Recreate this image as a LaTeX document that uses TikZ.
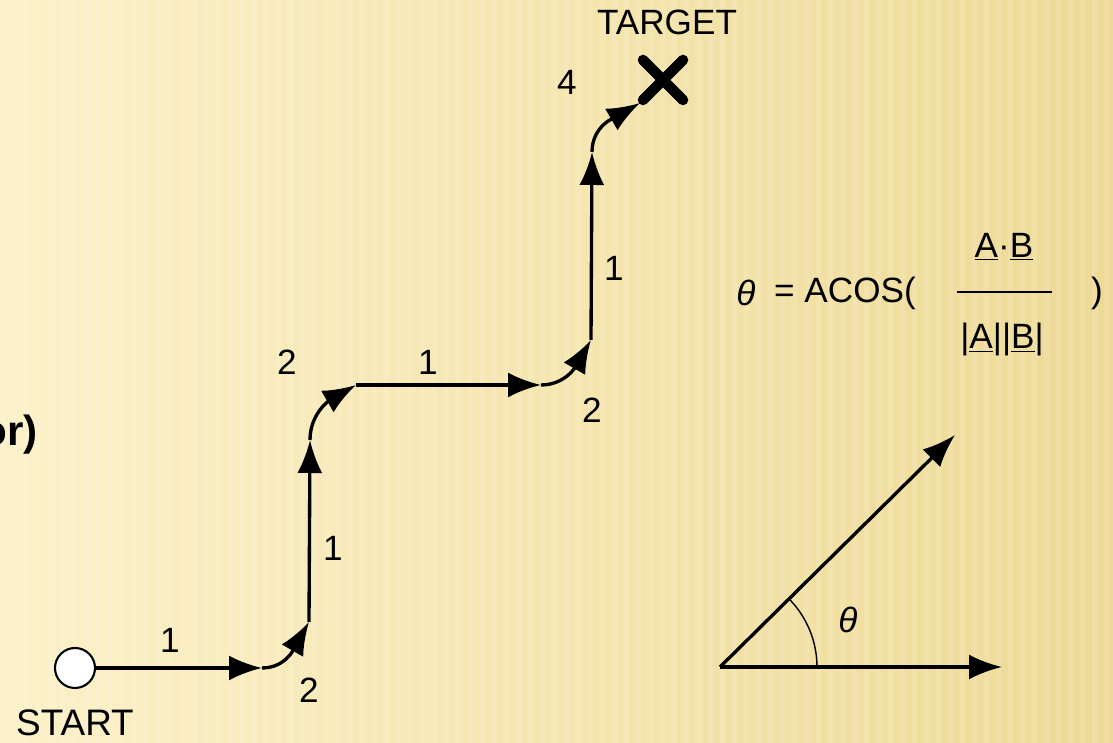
\documentclass[tikz,border=0pt]{standalone}
\usepackage{fontspec}
\setmainfont{Liberation Sans}
\usetikzlibrary{calc,arrows.meta,positioning,angles,quotes}
\definecolor{paperlight}{RGB}{252,241,200}
\definecolor{paperdark}{RGB}{238,218,150}

\begin{document}
\begin{tikzpicture}[x=0.02cm, y=0.02cm,
    step line/.style={line width=1.9pt, -{Latex[length=0.66cm, width=0.5cm]}},
    num/.style={font=\fontsize{20}{22}\selectfont},
    ]

    % background
    \useasboundingbox (0,0) rectangle (1113,743);
    \clip (0,0) rectangle (1113,743);
    \shade[left color=paperlight, right color=paperdark] (0,0) rectangle (1113,743);
    \foreach \i in {0,12,...,1110}
        \fill[white, opacity=0.12] (\i,0) rectangle (\i+5,743);

    % path points
    \coordinate (A1) at (262,75);
    \coordinate (A2) at (309,121);
    \coordinate (A3) at (310,303);
    \coordinate (A4) at (356,358);
    \coordinate (A5) at (541,358);
    \coordinate (A6) at (591,403);
    \coordinate (A7) at (592,591);
    \coordinate (A8) at (640,640);
    \coordinate (T) at (663,663);

    \node[circle, draw, fill=white, line width=1.2pt, minimum size=0.8cm, inner sep=0pt]
        (start) at (75,75) {};
    \node[font=\fontsize{21}{23}\selectfont] (startlbl) at (75,20) {START};

%	\draw[thick] (start) -- (A1);

    \draw[step line] (start) -- (A1);
    \draw[step line] (A1) to[out=0, in=240] (A2);
    \draw[step line] (A2) -- (A3);
    \draw[step line] (A3) to[out=90, in=210] (A4);
    \draw[step line] (A4) -- (A5);
    \draw[step line] (A5) to[out=0, in=240] (A6);
    \draw[step line] (A6) -- (A7);
    \draw[step line] (A7) to[out=90, in=210] (A8);
    \draw[line width=1.9pt] (A8) -- (T);

    % target cross
    \draw[line width=6pt, line cap=round] ($(T)+(-20,-20)$) -- ($(T)+(20,20)$);
    \draw[line width=6pt, line cap=round] ($(T)+(-20,20)$) -- ($(T)+(20,-20)$);
    \node[num] (targetlbl) at (667,721) {TARGET};

    % step costs
    \node[num] (c1) at (170,103) {1};
    \node[num] (c2) at (309,53) {2};
    \node[num] (c3) at (333,195) {1};
    \node[num] (c4) at (287,381) {2};
    \node[num] (c5) at (428,381) {1};
    \node[num] (c6) at (592,333) {2};
    \node[num] (c7) at (614,475) {1};
    \node[num] (c8) at (567,661) {4};

    \node[font=\fontsize{24}{26}\selectfont\bfseries, anchor=east] (cut) at (44,308) {or)};

    % formula
    \node[num] (th) at (746,450) {\itshape θ};
    \node[num, anchor=west] (acos) at (768,450) {= ACOS(};
    \draw[line width=1pt] (957,451) -- (1052,451);
    \node[num] (num) at (1004,496) {\underline{A}·\underline{B}};
    \node[num] (den) at (1002,403) {|\underline{A}||\underline{B}|};
    \node[num] (rpar) at (1097,450) {)};

    % angle sketch
    \coordinate (O) at (720,76);
    \coordinate (H) at (1002,76);
    \coordinate (D) at (955,308);
    \draw[step line] (O) -- (H);
    \draw[step line] (O) -- (D);
    \draw pic[draw=black, line width=0.8pt, angle radius=1.94cm] {angle=H--O--D};
    \node[num] (ang) at (848,123) {\itshape θ};

\end{tikzpicture}
\end{document}
